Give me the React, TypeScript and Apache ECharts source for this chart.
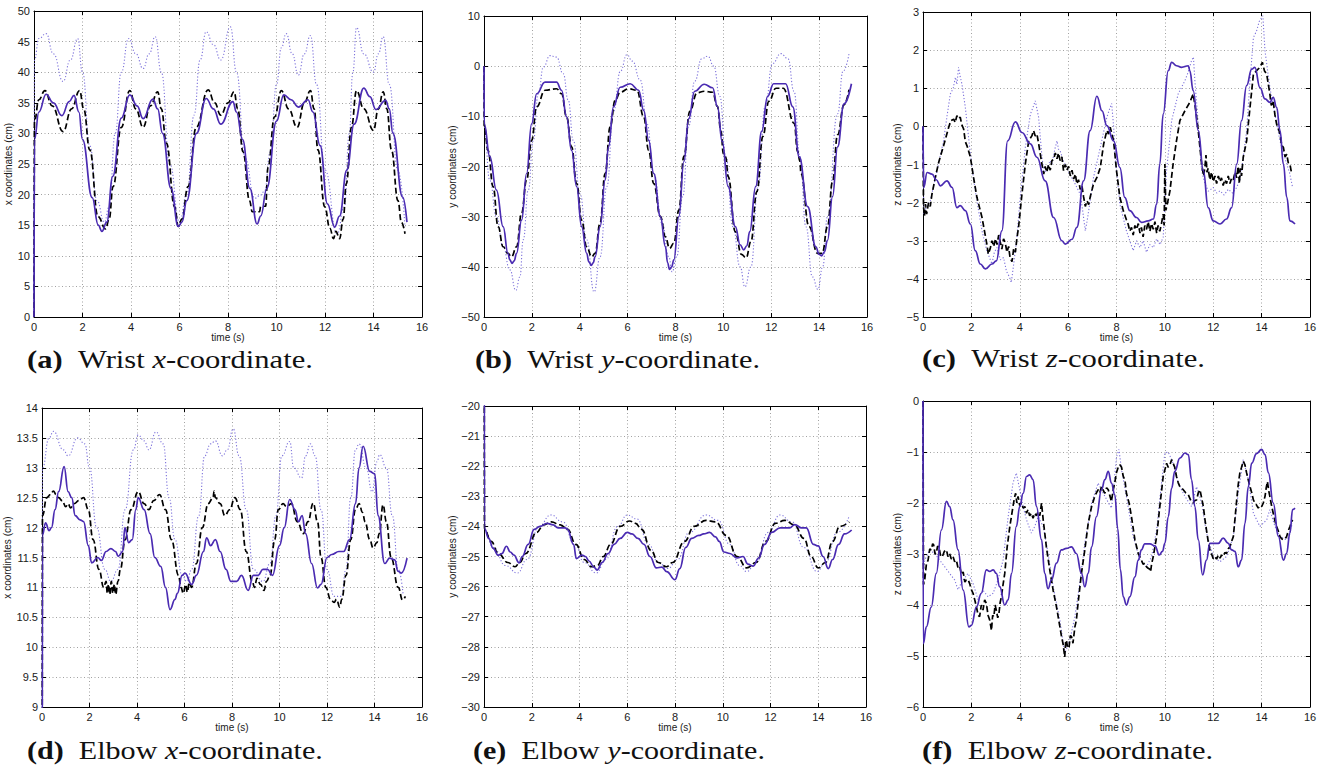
import { useEffect, useRef } from "react";
import * as echarts from "echarts";

type Pts = [number, number][];

// ---------- (a) Wrist x ----------
const A_SOLID: Pts = [[0,0],[0.02,29],[0.2,33.5],[0.5,36.4],[0.8,35],[1.15,32.9],[1.45,35.2],[1.65,36.2],[1.85,33.5],[2.0,29],[2.4,19.5],[2.65,15],[2.8,14],[3.0,15.5],[3.25,23],[3.6,32.5],[3.95,36.3],[4.25,34.5],[4.5,32.4],[4.9,35.6],[5.1,34],[5.3,30],[5.65,21],[5.95,14.8],[6.1,15.5],[6.3,19],[6.7,30],[7.1,35.7],[7.4,34],[7.7,31.5],[8.2,35.2],[8.35,33.5],[8.6,29],[8.9,21],[9.2,15.2],[9.35,16.5],[9.6,21],[10.0,32],[10.3,36.3],[10.6,35.5],[10.9,34.3],[11.3,35.5],[11.5,33.5],[11.8,28],[12.1,18.5],[12.4,14.7],[12.6,16.5],[12.9,24],[13.2,31.5],[13.6,37.4],[13.85,36],[14.1,33.9],[14.5,35.4],[14.65,34],[14.8,30],[15.2,19.6],[15.38,15.5]];
const A_DASH: Pts = [[0,0],[0.02,32],[0.2,35.5],[0.45,37],[0.75,34.5],[1.2,30.3],[1.55,34],[1.88,37],[2.05,34],[2.3,27.3],[2.64,16.4],[2.95,14.4],[3.1,16],[3.26,21.3],[3.6,31],[3.95,37],[4.2,34],[4.5,31],[4.8,34.5],[5.1,36.8],[5.25,34],[5.46,28.4],[5.8,18],[5.95,14.8],[6.1,16],[6.35,21.3],[6.69,31],[7.18,37.1],[7.45,35],[7.7,33],[8.0,35],[8.25,36.8],[8.4,34],[8.62,27],[8.89,19],[9.0,17.2],[9.3,17.2],[9.35,18.1],[9.55,18.1],[9.65,24.5],[9.92,32.7],[10.2,37],[10.5,34],[10.85,31],[11.15,35],[11.4,37],[11.55,34],[11.71,27.3],[11.99,18],[12.2,14.5],[12.35,12.8],[12.45,14],[12.6,12.8],[12.75,16],[12.88,21.8],[13.09,31],[13.3,37],[13.6,34],[14.0,30.5],[14.2,34],[14.4,36.8],[14.55,34],[14.74,27.3],[15.01,19],[15.15,15.5],[15.3,13.6]];
const A_DOT: Pts = [[0,0],[0.02,42],[0.2,45.5],[0.5,46.3],[0.8,43],[1.2,38.5],[1.5,42],[1.8,45.5],[2.0,40],[2.3,28],[2.6,19],[2.9,15.5],[3.1,18],[3.35,30],[3.6,40],[3.9,45.5],[4.2,43],[4.5,40.6],[4.75,43],[5.0,45.8],[5.25,40],[5.6,25],[6.0,15.5],[6.3,20],[6.6,33],[6.85,42],[7.1,46.6],[7.4,44.5],[7.7,42],[8.1,47.4],[8.35,40],[8.7,26],[9.1,19.4],[9.3,19.8],[9.5,20.5],[9.75,27],[10.0,38],[10.2,44],[10.4,46.3],[10.65,43],[10.9,39.5],[11.15,43],[11.4,46],[11.65,38],[12.0,24],[12.5,13.6],[12.8,18],[13.0,30],[13.15,40],[13.3,47.3],[13.6,43],[14.0,40],[14.2,43],[14.4,45.8],[14.65,38],[15.0,24],[15.3,14.7]];

// ---------- (b) Wrist y ----------
const B_SOLID: Pts = [[0,0],[0.01,-11.5],[0.24,-18],[0.52,-24.7],[0.8,-32],[1.0,-37.3],[1.08,-38.6],[1.17,-39.3],[1.26,-38.8],[1.36,-37.3],[1.57,-30.7],[1.78,-21.4],[1.99,-11.5],[2.2,-5.5],[2.55,-3.2],[3.03,-3.2],[3.24,-4.8],[3.45,-10.1],[3.66,-16.8],[3.87,-24],[4.08,-32],[4.29,-37.3],[4.38,-39],[4.48,-39.7],[4.56,-39.2],[4.64,-38],[4.85,-32],[5.06,-22.7],[5.2,-16.1],[5.41,-8.1],[5.69,-4.2],[6.11,-3.5],[6.46,-4.8],[6.67,-8.8],[6.88,-14.8],[7.09,-21.4],[7.37,-30],[7.58,-36],[7.67,-39.2],[7.75,-40.5],[7.84,-40],[7.93,-38.6],[8.14,-30],[8.35,-19],[8.55,-10.5],[8.8,-5],[9.2,-3.6],[9.55,-4.3],[9.75,-8],[9.95,-15],[10.2,-24],[10.5,-32],[10.7,-35.6],[10.85,-36.6],[10.98,-35.8],[11.1,-33],[11.35,-24],[11.6,-13],[11.85,-6],[12.1,-3.5],[12.6,-3.5],[12.9,-8.1],[13.17,-18.1],[13.52,-28],[13.86,-36],[14.0,-37.5],[14.1,-37.8],[14.22,-37],[14.35,-34.7],[14.56,-26],[14.77,-16.1],[15.04,-7.5],[15.35,-3.5]];
const B_DASH: Pts = [[0,0],[0.01,-12],[0.17,-16.8],[0.38,-24],[0.59,-32],[0.8,-36],[1.0,-37.3],[1.15,-38],[1.36,-36],[1.57,-29.3],[1.78,-22.7],[1.99,-14.8],[2.2,-8.1],[2.55,-4.8],[3.03,-4.5],[3.24,-5.5],[3.45,-10.1],[3.66,-16.1],[3.87,-23.4],[4.08,-30.7],[4.29,-36],[4.5,-38],[4.64,-37.3],[4.85,-31.3],[5.06,-21.4],[5.27,-12.1],[5.48,-6.8],[5.69,-5.2],[6.04,-4.5],[6.39,-4.8],[6.67,-10.1],[6.88,-16.8],[7.09,-23.4],[7.37,-30],[7.58,-34],[7.75,-36.3],[7.93,-35.3],[8.14,-28.7],[8.35,-18],[8.6,-9],[8.9,-5.3],[9.2,-5],[9.55,-5.2],[9.75,-8],[9.9,-13],[10.0,-17.5],[10.1,-18.2],[10.2,-22],[10.5,-33],[10.75,-37.5],[10.95,-38.2],[11.15,-35],[11.4,-25],[11.65,-14],[11.9,-7],[12.2,-4.4],[12.5,-4.4],[12.96,-11.4],[13.1,-17],[13.2,-19],[13.24,-21.4],[13.58,-32],[13.93,-37.3],[14.13,-37.3],[14.35,-32],[14.56,-23],[14.77,-13.7],[15.04,-7.7],[15.25,-4.7]];
const B_DOT: Pts = [[0,0],[0.01,-12],[0.24,-22.7],[0.52,-30],[0.8,-36],[1.08,-40.6],[1.33,-44.7],[1.5,-42],[1.64,-34.6],[1.85,-24.7],[2.06,-14.8],[2.27,-5.5],[2.48,-0.2],[2.76,2.1],[3.03,1.8],[3.31,-1.5],[3.52,-6.8],[3.73,-14.8],[4.01,-25.4],[4.29,-34.6],[4.6,-45],[4.85,-38],[5.13,-24],[5.41,-9],[5.7,-1],[5.97,2.3],[6.2,1],[6.53,-2.8],[6.81,-11.5],[7.09,-21.4],[7.44,-31.3],[7.72,-38],[7.86,-41],[8.05,-38],[8.3,-26],[8.55,-12],[8.8,-3],[9.1,1.5],[9.35,2],[9.6,0],[9.85,-6],[10.1,-18],[10.4,-32],[10.7,-40],[10.9,-44],[11.15,-40],[11.45,-24],[11.75,-8],[12.05,0.5],[12.4,2.5],[12.7,1.5],[12.95,-5],[13.2,-18],[13.45,-32],[13.72,-42],[13.95,-44.5],[14.15,-40],[14.35,-30],[14.77,-9.5],[15.0,-1],[15.25,2.5]];

// ---------- (c) Wrist z ----------
const C_SOLID: Pts = [[0,0],[0.03,-1.6],[0.17,-1.21],[0.37,-1.25],[0.55,-1.4],[0.72,-1.56],[0.99,-1.43],[1.2,-1.6],[1.4,-2.13],[1.54,-2.08],[1.75,-2.21],[1.96,-2.56],[2.16,-3.26],[2.37,-3.61],[2.58,-3.74],[2.85,-3.61],[3.03,-3.53],[3.26,-2.74],[3.5,-0.38],[3.82,0.12],[4.09,-0.16],[4.44,-0.46],[4.71,-0.81],[5.05,-1.43],[5.4,-2.39],[5.74,-3.0],[5.88,-3.09],[6.16,-2.96],[6.36,-2.65],[6.64,-1.43],[6.91,-0.11],[7.19,0.79],[7.4,0.41],[7.6,0.02],[7.88,-0.38],[8.14,-1.08],[8.34,-1.86],[8.55,-2.21],[8.83,-2.39],[9.03,-2.52],[9.31,-2.48],[9.52,-2.43],[9.66,-2.04],[9.79,-0.99],[9.93,0.32],[10.14,1.46],[10.28,1.68],[10.48,1.59],[10.69,1.55],[10.97,1.59],[11.03,1.46],[11.17,0.94],[11.38,-0.11],[11.59,-1.16],[11.79,-2.13],[12.0,-2.48],[12.28,-2.56],[12.55,-2.43],[12.76,-2.13],[12.97,-0.99],[13.17,0.15],[13.38,1.07],[13.59,1.5],[13.72,1.55],[13.93,1.02],[14.14,0.72],[14.34,0.63],[14.48,0.76],[14.62,0.5],[14.76,-0.11],[14.9,-0.99],[15.04,-1.86],[15.17,-2.48],[15.38,-2.56]];
const C_DASH: Pts = [[0,0],[0.02,-2.1],[0.06,-2.35],[0.1,-2.04],[0.15,-2.3],[0.23,-2.0],[0.3,-2.1],[0.37,-1.78],[0.51,-1.34],[0.65,-0.94],[0.85,-0.51],[1.06,-0.03],[1.15,0.15],[1.27,0.19],[1.33,0.1],[1.4,0.28],[1.47,0.2],[1.54,0.24],[1.6,0.05],[1.68,-0.07],[1.75,-0.4],[1.82,-0.51],[1.96,-0.81],[2.09,-1.34],[2.23,-1.86],[2.44,-2.39],[2.64,-3.09],[2.7,-3.35],[2.78,-3.2],[2.85,-3.0],[2.92,-3.15],[3.0,-2.95],[3.06,-3.1],[3.13,-2.85],[3.2,-3.05],[3.26,-3.22],[3.33,-2.95],[3.4,-3.05],[3.47,-3.3],[3.54,-3.15],[3.6,-3.45],[3.68,-3.55],[3.75,-3.2],[3.82,-3.3],[3.88,-2.95],[3.95,-2.65],[4.09,-1.78],[4.23,-0.99],[4.37,-0.38],[4.5,-0.25],[4.57,-0.11],[4.64,-0.25],[4.71,-0.2],[4.78,-0.45],[4.85,-0.73],[4.92,-1.0],[4.99,-1.25],[5.05,-1.05],[5.12,-1.2],[5.19,-1.0],[5.26,-1.15],[5.33,-0.9],[5.4,-0.86],[5.47,-0.7],[5.54,-0.85],[5.6,-0.7],[5.67,-0.9],[5.74,-0.8],[5.81,-1.16],[5.88,-1.0],[5.95,-1.15],[6.02,-1.05],[6.09,-1.3],[6.16,-1.15],[6.23,-1.38],[6.3,-1.25],[6.36,-1.51],[6.43,-1.4],[6.5,-1.65],[6.57,-1.55],[6.64,-1.85],[6.71,-2.1],[6.78,-1.95],[6.85,-2.05],[6.91,-1.86],[7.05,-1.51],[7.19,-1.34],[7.33,-1.08],[7.47,-0.46],[7.6,-0.11],[7.67,-0.2],[7.74,-0.02],[7.81,-0.2],[7.88,-0.38],[8.0,-1.16],[8.14,-1.86],[8.28,-2.21],[8.41,-2.45],[8.48,-2.56],[8.55,-2.75],[8.62,-2.65],[8.69,-2.85],[8.76,-2.6],[8.83,-2.7],[8.9,-2.55],[8.97,-2.8],[9.03,-2.65],[9.1,-2.9],[9.17,-2.6],[9.24,-2.7],[9.31,-2.5],[9.38,-2.75],[9.45,-2.55],[9.52,-2.7],[9.59,-2.5],[9.66,-2.8],[9.72,-2.6],[9.79,-2.75],[9.86,-2.55],[9.93,-2.3],[9.97,-2.6],[10.0,-0.99],[10.04,-2.2],[10.1,-2.04],[10.21,-1.69],[10.34,-0.99],[10.48,-0.38],[10.62,0.15],[10.83,0.41],[11.03,0.63],[11.17,0.85],[11.28,0.41],[11.38,-0.11],[11.52,-0.99],[11.6,-1.3],[11.65,-1.1],[11.7,-0.75],[11.74,-1.2],[11.79,-1.1],[11.86,-1.4],[11.93,-1.2],[12.0,-1.45],[12.07,-1.3],[12.14,-1.5],[12.21,-1.3],[12.28,-1.45],[12.34,-1.35],[12.41,-1.55],[12.48,-1.4],[12.55,-1.5],[12.62,-1.3],[12.69,-1.5],[12.76,-1.35],[12.83,-1.4],[12.9,-1.2],[12.97,-1.35],[13.03,-1.05],[13.08,-1.5],[13.12,-1.1],[13.17,-1.3],[13.24,-0.81],[13.38,-0.38],[13.52,0.5],[13.66,1.37],[13.79,1.46],[13.93,1.55],[14.03,1.68],[14.12,1.45],[14.21,1.37],[14.34,0.85],[14.4,0.55],[14.48,0.67],[14.55,0.3],[14.62,0.06],[14.69,-0.05],[14.76,-0.2],[14.83,-0.5],[14.9,-0.55],[14.97,-0.8],[15.04,-0.73],[15.1,-0.95],[15.17,-0.99],[15.23,-1.2],[15.28,-1.25]];
const C_DOT: Pts = [[0,0],[0.03,-2.3],[0.15,-2.1],[0.3,-1.95],[0.58,-1.16],[0.85,-0.38],[1.0,0.3],[1.13,0.85],[1.25,1.0],[1.34,1.29],[1.4,1.1],[1.47,1.55],[1.54,1.3],[1.61,1.11],[1.75,0.5],[1.96,-0.73],[2.16,-1.69],[2.44,-2.74],[2.64,-3.26],[2.85,-3.61],[2.95,-3.3],[3.06,-3.18],[3.2,-3.5],[3.33,-3.44],[3.45,-3.8],[3.58,-3.96],[3.65,-4.1],[3.75,-3.61],[3.88,-2.91],[4.02,-1.86],[4.23,-0.55],[4.44,0.32],[4.55,0.5],[4.64,0.67],[4.78,0.24],[4.92,-0.81],[5.0,-1.2],[5.12,-1.16],[5.25,-0.9],[5.33,-0.99],[5.45,-0.6],[5.54,-0.38],[5.6,-0.6],[5.67,-0.64],[5.8,-0.9],[5.95,-1.08],[6.1,-1.3],[6.23,-1.43],[6.5,-1.78],[6.6,-2.2],[6.71,-2.74],[6.78,-2.5],[6.85,-2.21],[7.05,-1.34],[7.33,-0.55],[7.6,0.24],[7.74,0.5],[7.8,0.6],[7.88,0.0],[7.95,-0.81],[8.14,-2.04],[8.41,-2.74],[8.55,-3.0],[8.69,-3.26],[8.83,-3.0],[8.97,-3.18],[9.1,-3.0],[9.24,-3.3],[9.38,-3.1],[9.52,-3.18],[9.66,-2.95],[9.8,-3.1],[9.93,-2.91],[10.07,-1.16],[10.28,0.15],[10.55,0.85],[10.83,1.2],[10.95,1.4],[11.1,1.72],[11.18,1.82],[11.24,1.2],[11.38,0.06],[11.52,-1.16],[11.66,-1.51],[11.8,-1.7],[12.0,-1.6],[12.14,-1.75],[12.28,-1.69],[12.45,-1.8],[12.62,-1.65],[12.8,-1.75],[12.97,-1.6],[13.1,-1.4],[13.17,-1.16],[13.38,-0.11],[13.52,1.2],[13.66,2.33],[13.79,2.5],[13.9,2.75],[14.05,2.9],[14.14,1.98],[14.34,1.02],[14.55,0.32],[14.76,-0.38],[15.04,-0.99],[15.15,-1.2],[15.28,-1.6]];

// ---------- (d) Elbow x ----------
const D_SOLID: Pts = [[0,0],[0.02,11.88],[0.15,12.08],[0.3,11.95],[0.4,12.0],[0.55,12.3],[0.7,12.6],[0.93,13.02],[1.1,12.6],[1.25,12.5],[1.4,12.2],[1.6,12.13],[1.75,12.1],[1.95,11.7],[2.09,11.41],[2.35,11.5],[2.5,11.45],[2.7,11.6],[2.9,11.65],[3.1,11.6],[3.21,11.52],[3.4,11.6],[3.49,12.0],[3.65,11.75],[3.8,11.8],[3.95,12.3],[4.05,12.5],[4.3,12.3],[4.55,11.9],[4.75,11.5],[5.0,11.35],[5.2,11.0],[5.39,10.63],[5.6,10.8],[5.7,10.9],[5.9,11.2],[6.02,11.24],[6.3,11.05],[6.5,11.2],[6.8,11.6],[6.93,11.83],[7.1,11.7],[7.3,11.8],[7.5,11.6],[7.75,11.3],[7.95,11.1],[8.2,11.1],[8.4,11.2],[8.68,10.95],[8.9,11.2],[9.1,11.2],[9.3,11.3],[9.5,11.3],[9.7,11.2],[10.0,11.7],[10.2,12.0],[10.43,12.47],[10.65,12.3],[10.8,12.1],[10.95,12.2],[11.1,11.9],[11.35,11.4],[11.6,10.99],[11.75,11.05],[12.0,11.5],[12.2,11.55],[12.5,11.6],[12.7,11.6],[12.95,11.8],[13.2,12.4],[13.35,13.0],[13.52,13.36],[13.8,12.94],[14.01,12.9],[14.15,12.2],[14.43,11.4],[14.64,11.49],[14.85,11.46],[14.99,11.27],[15.13,11.24],[15.37,11.49]];
const D_DASH: Pts = [[0,0],[0.02,12.2],[0.2,12.5],[0.35,12.55],[0.48,12.61],[0.6,12.55],[0.7,12.5],[0.85,12.45],[1.0,12.35],[1.1,12.4],[1.2,12.33],[1.35,12.4],[1.55,12.45],[1.75,12.5],[1.95,12.3],[2.15,11.8],[2.4,11.3],[2.6,11.0],[2.7,11.1],[2.75,10.9],[2.8,11.05],[2.85,10.88],[2.92,11.1],[2.98,10.9],[3.05,11.05],[3.1,10.88],[3.2,11.1],[3.3,11.3],[3.5,11.8],[3.75,12.3],[4.05,12.6],[4.3,12.4],[4.5,12.3],[4.7,12.45],[4.95,12.55],[5.2,12.3],[5.45,11.8],[5.75,11.2],[5.85,11.0],[5.95,10.9],[6.05,11.05],[6.12,10.92],[6.2,11.08],[6.3,11.0],[6.5,11.4],[6.75,12.0],[7.0,12.4],[7.2,12.5],[7.25,12.61],[7.3,12.5],[7.5,12.4],[7.7,12.2],[7.9,12.3],[8.12,12.5],[8.35,12.3],[8.6,11.6],[8.85,11.1],[8.95,11.0],[9.05,11.15],[9.2,11.05],[9.35,10.95],[9.45,11.1],[9.6,11.2],[9.8,11.8],[9.95,12.3],[10.15,12.4],[10.3,12.35],[10.5,12.4],[10.75,12.1],[11.0,11.9],[11.2,12.1],[11.42,12.41],[11.6,12.1],[11.75,11.5],[11.95,11.0],[12.15,10.8],[12.3,10.75],[12.4,10.8],[12.54,10.67],[12.62,10.8],[12.8,11.2],[13.0,11.8],[13.2,12.3],[13.35,12.4],[13.5,12.25],[13.6,12.1],[13.8,11.8],[13.94,11.66],[14.1,11.75],[14.2,11.9],[14.36,12.38],[14.5,12.1],[14.7,11.5],[15.0,11.0],[15.18,10.79],[15.3,10.85]];
const D_DOT: Pts = [[0,0],[0.02,13.0],[0.3,13.5],[0.48,13.61],[0.9,13.3],[1.1,13.2],[1.5,13.5],[1.8,13.4],[2.0,13.0],[2.3,12.0],[2.65,11.3],[2.9,11.1],[3.2,11.3],[3.5,12.3],[3.85,13.3],[4.05,13.55],[4.3,13.45],[4.5,13.3],[4.8,13.6],[5.1,13.4],[5.35,12.5],[5.6,11.8],[5.9,11.2],[6.1,11.1],[6.3,11.3],[6.6,12.2],[6.85,13.2],[7.1,13.4],[7.3,13.45],[7.6,13.2],[7.8,13.3],[8.05,13.65],[8.3,13.2],[8.6,12.3],[8.9,11.3],[9.3,11.1],[9.6,11.4],[9.85,12.2],[10.1,13.2],[10.43,13.44],[10.6,13.0],[10.93,12.83],[11.1,13.2],[11.3,13.4],[11.5,13.2],[11.75,12.3],[12.0,11.3],[12.3,10.85],[12.6,10.85],[12.8,11.3],[13.0,12.5],[13.2,13.3],[13.35,13.4],[13.65,13.0],[13.9,12.6],[14.1,13.1],[14.22,13.22],[14.5,13.0],[14.75,12.2],[15.0,11.3],[15.2,10.9]];

// ---------- (e) Elbow y ----------
const E_SOLID: Pts = [[0,0],[0.02,-24.07],[0.2,-24.4],[0.38,-24.73],[0.6,-24.96],[0.75,-24.9],[0.94,-24.66],[1.1,-24.85],[1.25,-24.95],[1.47,-25.21],[1.6,-25.0],[1.85,-24.6],[2.1,-24.1],[2.35,-24.0],[2.64,-23.9],[2.9,-23.95],[3.1,-24.05],[3.4,-24.05],[3.5,-24.1],[3.75,-24.6],[3.87,-25.07],[4.1,-24.95],[4.25,-25.0],[4.4,-25.15],[4.6,-25.35],[4.74,-25.45],[4.95,-25.2],[5.2,-24.9],[5.45,-24.6],[5.7,-24.4],[6.0,-24.2],[6.2,-24.25],[6.45,-24.4],[6.7,-24.6],[6.95,-25.0],[7.22,-25.38],[7.45,-25.35],[7.65,-25.5],[8.0,-25.77],[8.2,-25.4],[8.45,-24.7],[8.7,-24.4],[9.0,-24.3],[9.2,-24.25],[9.45,-24.2],[9.7,-24.35],[9.85,-24.5],[10.05,-24.85],[10.3,-24.9],[10.6,-25.05],[10.85,-25.0],[11.05,-25.25],[11.28,-25.32],[11.5,-25.05],[11.75,-24.6],[12.05,-24.2],[12.4,-24.05],[12.8,-24.05],[13.02,-23.94],[13.3,-24.05],[13.5,-24.05],[13.8,-24.6],[14.0,-24.65],[14.2,-25.0],[14.42,-25.4],[14.6,-25.1],[14.85,-24.6],[15.1,-24.25],[15.4,-24.12]];
const E_DASH: Pts = [[0,0],[0.02,-24.1],[0.3,-24.5],[0.6,-24.9],[1.0,-25.2],[1.3,-25.34],[1.5,-25.2],[1.75,-24.9],[2.2,-24.2],[2.5,-23.95],[2.82,-23.85],[3.2,-23.95],[3.5,-24.1],[3.85,-24.6],[4.2,-25.1],[4.5,-25.34],[4.75,-25.3],[5.0,-25.0],[5.3,-24.6],[5.7,-24.0],[6.1,-23.82],[6.35,-23.9],[6.6,-24.1],[7.0,-24.8],[7.3,-25.2],[7.64,-25.34],[7.9,-25.2],[8.4,-24.5],[8.8,-24.0],[9.3,-23.8],[9.7,-23.85],[10.15,-24.3],[10.6,-25.0],[11.0,-25.38],[11.4,-25.2],[11.8,-24.5],[12.2,-23.9],[12.6,-23.8],[13.0,-23.95],[13.4,-24.4],[13.7,-25.0],[14.0,-25.38],[14.3,-25.2],[14.6,-24.5],[14.9,-24.0],[15.3,-23.85]];
const E_DOT: Pts = [[0,0],[0.02,-24.1],[0.4,-24.7],[0.9,-25.3],[1.4,-25.55],[1.8,-25.1],[2.3,-24.0],[2.8,-23.62],[3.3,-23.85],[3.8,-24.6],[4.2,-25.2],[4.7,-25.55],[5.1,-25.1],[5.6,-24.0],[6.0,-23.62],[6.4,-23.75],[6.9,-24.6],[7.3,-25.2],[7.7,-25.4],[8.1,-25.1],[8.6,-24.2],[9.3,-23.62],[9.8,-23.8],[10.3,-24.6],[10.7,-25.3],[11.0,-25.5],[11.4,-25.2],[11.9,-24.2],[12.4,-23.62],[12.9,-23.85],[13.4,-24.7],[13.95,-25.5],[14.3,-25.2],[14.8,-24.2],[15.3,-23.65]];

// ---------- (f) Elbow z ----------
const F_SOLID: Pts = [[0,0],[0.01,-4.76],[0.14,-4.43],[0.34,-4.04],[0.55,-3.38],[0.76,-2.53],[0.97,-1.97],[1.1,-2.07],[1.24,-2.33],[1.45,-2.92],[1.66,-3.71],[1.9,-4.43],[2.0,-4.4],[2.21,-4.04],[2.41,-3.77],[2.62,-3.31],[2.76,-3.34],[2.9,-3.31],[3.03,-3.38],[3.17,-3.64],[3.38,-4.0],[3.52,-3.9],[3.66,-3.38],[3.86,-2.46],[4.0,-2.07],[4.14,-1.81],[4.28,-1.48],[4.41,-1.45],[4.55,-1.54],[4.69,-2.07],[4.9,-2.72],[5.03,-3.38],[5.17,-3.68],[5.31,-3.51],[5.52,-3.18],[5.72,-2.92],[5.93,-2.89],[6.14,-2.86],[6.34,-2.99],[6.55,-3.38],[6.69,-3.64],[6.83,-3.38],[6.97,-2.86],[7.17,-2.27],[7.38,-1.74],[7.52,-1.54],[7.66,-1.38],[7.79,-1.61],[7.93,-1.84],[8.05,-2.5],[8.16,-3.3],[8.28,-3.84],[8.41,-4.0],[8.55,-3.84],[8.76,-3.45],[8.9,-3.12],[9.03,-2.92],[9.17,-2.8],[9.38,-2.8],[9.59,-2.84],[9.77,-3.02],[9.9,-2.95],[10.0,-2.79],[10.14,-2.27],[10.28,-1.71],[10.41,-1.38],[10.62,-1.12],[10.83,-1.02],[10.97,-1.05],[11.1,-1.54],[11.24,-2.07],[11.38,-2.72],[11.56,-3.41],[11.72,-3.12],[11.86,-2.79],[12.0,-2.79],[12.21,-2.79],[12.41,-2.69],[12.62,-2.79],[12.76,-2.92],[12.9,-2.95],[13.03,-3.25],[13.17,-3.12],[13.31,-2.4],[13.45,-1.68],[13.59,-1.22],[13.79,-1.03],[14.0,-0.95],[14.14,-1.05],[14.28,-1.41],[14.48,-2.0],[14.69,-2.65],[14.9,-3.12],[15.03,-2.99],[15.17,-2.59],[15.28,-2.13],[15.38,-2.1]];
const F_DASH: Pts = [[0,0],[0.02,-3.6],[0.07,-3.51],[0.14,-3.2],[0.21,-3.12],[0.28,-2.9],[0.34,-2.92],[0.4,-2.8],[0.44,-2.82],[0.5,-3.0],[0.55,-2.99],[0.6,-2.85],[0.66,-2.86],[0.73,-3.05],[0.8,-3.05],[0.88,-2.95],[0.97,-2.92],[1.03,-3.05],[1.1,-2.99],[1.17,-3.1],[1.24,-3.05],[1.31,-3.15],[1.38,-3.12],[1.45,-3.28],[1.52,-3.25],[1.59,-3.4],[1.66,-3.35],[1.73,-3.55],[1.79,-3.51],[1.86,-3.5],[1.93,-3.58],[2.0,-3.7],[2.07,-3.77],[2.14,-3.9],[2.21,-4.04],[2.28,-4.2],[2.34,-4.23],[2.41,-4.0],[2.48,-4.1],[2.55,-3.9],[2.62,-3.97],[2.69,-4.2],[2.76,-4.3],[2.83,-4.5],[2.88,-4.2],[2.93,-4.23],[2.98,-4.0],[3.03,-4.1],[3.09,-4.25],[3.14,-4.17],[3.19,-3.95],[3.24,-3.84],[3.31,-3.6],[3.38,-3.38],[3.48,-2.86],[3.59,-2.46],[3.72,-2.07],[3.78,-1.9],[3.83,-1.81],[3.88,-2.0],[3.93,-1.87],[4.0,-2.05],[4.07,-2.0],[4.14,-2.1],[4.21,-2.07],[4.28,-2.2],[4.34,-2.13],[4.41,-2.25],[4.48,-2.2],[4.55,-2.3],[4.62,-2.2],[4.69,-2.25],[4.76,-2.17],[4.83,-2.25],[4.9,-2.0],[4.97,-2.33],[5.1,-2.86],[5.24,-3.31],[5.38,-3.71],[5.52,-4.04],[5.66,-4.43],[5.72,-4.6],[5.79,-4.76],[5.86,-5.02],[5.9,-4.7],[5.93,-4.69],[5.98,-4.85],[6.04,-4.82],[6.09,-4.6],[6.14,-4.62],[6.2,-4.75],[6.28,-4.43],[6.34,-4.3],[6.41,-3.97],[6.55,-3.38],[6.69,-2.92],[6.83,-2.4],[6.97,-2.07],[7.1,-1.87],[7.17,-1.8],[7.24,-1.74],[7.31,-1.8],[7.38,-1.68],[7.45,-1.75],[7.52,-1.81],[7.59,-1.7],[7.66,-1.74],[7.72,-1.85],[7.79,-1.97],[7.86,-1.75],[7.93,-1.6],[8.0,-1.4],[8.07,-1.3],[8.14,-1.25],[8.21,-1.3],[8.28,-1.48],[8.35,-1.55],[8.41,-1.81],[8.52,-2.0],[8.62,-2.27],[8.76,-2.72],[8.9,-2.99],[9.03,-3.12],[9.1,-3.2],[9.17,-3.18],[9.24,-3.25],[9.31,-3.28],[9.38,-3.3],[9.41,-3.35],[9.45,-3.2],[9.52,-3.05],[9.66,-2.66],[9.79,-2.07],[9.93,-1.48],[10.0,-1.35],[10.07,-1.22],[10.14,-1.3],[10.21,-1.25],[10.28,-1.15],[10.34,-1.22],[10.41,-1.3],[10.48,-1.48],[10.55,-1.6],[10.62,-1.68],[10.69,-1.7],[10.76,-1.74],[10.86,-1.8],[10.97,-1.84],[11.07,-1.95],[11.17,-2.0],[11.24,-1.95],[11.31,-1.94],[11.38,-1.8],[11.45,-1.74],[11.52,-1.9],[11.59,-2.07],[11.65,-2.3],[11.72,-2.53],[11.79,-2.75],[11.86,-2.92],[11.93,-3.0],[12.0,-3.09],[12.07,-3.05],[12.14,-3.1],[12.21,-3.02],[12.28,-3.08],[12.34,-3.02],[12.41,-3.05],[12.48,-2.97],[12.55,-2.99],[12.62,-2.9],[12.69,-2.86],[12.76,-2.75],[12.83,-2.66],[12.9,-2.3],[12.97,-1.94],[13.03,-1.65],[13.1,-1.41],[13.17,-1.3],[13.24,-1.18],[13.31,-1.25],[13.38,-1.41],[13.45,-1.55],[13.52,-1.68],[13.59,-1.8],[13.66,-1.94],[13.72,-2.0],[13.79,-2.04],[13.86,-2.1],[13.93,-2.05],[14.0,-2.07],[14.07,-2.0],[14.14,-1.87],[14.19,-1.7],[14.24,-1.58],[14.29,-1.75],[14.34,-1.87],[14.41,-2.05],[14.48,-2.2],[14.55,-2.35],[14.62,-2.46],[14.69,-2.55],[14.76,-2.66],[14.83,-2.7],[14.9,-2.72],[14.97,-2.7],[15.03,-2.66],[15.1,-2.55],[15.17,-2.46],[15.23,-2.38],[15.28,-2.33]];
const F_DOT: Pts = [[0,0],[0.02,-3.3],[0.07,-3.12],[0.28,-2.92],[0.48,-2.99],[0.69,-3.12],[0.9,-3.25],[1.1,-3.38],[1.31,-3.51],[1.45,-3.7],[1.55,-3.6],[1.66,-3.51],[1.86,-3.38],[2.07,-3.58],[2.28,-3.9],[2.48,-3.71],[2.69,-3.84],[2.9,-3.77],[3.1,-3.51],[3.31,-3.12],[3.52,-2.27],[3.72,-1.61],[3.86,-1.41],[4.0,-1.74],[4.14,-2.07],[4.28,-2.33],[4.48,-2.59],[4.62,-2.46],[4.76,-2.27],[4.97,-2.46],[5.17,-2.99],[5.38,-3.64],[5.66,-4.3],[5.86,-4.95],[6.07,-4.69],[6.28,-4.23],[6.48,-3.58],[6.69,-2.79],[6.97,-2.0],[7.24,-1.61],[7.52,-1.87],[7.79,-2.1],[7.9,-1.6],[8.0,-1.1],[8.1,-0.95],[8.21,-1.35],[8.41,-1.87],[8.69,-2.66],[8.97,-3.12],[9.24,-3.25],[9.45,-3.05],[9.66,-2.53],[9.86,-1.61],[10.0,-1.02],[10.14,-1.0],[10.34,-1.22],[10.55,-1.61],[10.83,-1.87],[11.1,-2.07],[11.31,-1.68],[11.52,-2.0],[11.72,-2.59],[12.0,-3.05],[12.28,-3.15],[12.55,-3.05],[12.83,-2.66],[13.03,-1.81],[13.24,-1.15],[13.45,-1.54],[13.66,-2.2],[13.93,-2.46],[14.21,-2.33],[14.34,-2.13],[14.55,-2.46],[14.76,-2.66],[15.03,-2.72],[15.28,-2.4]];

// ---------- axes & captions ----------
const X_NAME = "time (s)";
const X_MIN = 0;
const X_MAX = 16;
const X_INTERVAL = 2;
const Y_MINS = [0, -50, -5, 9, -30, -6];
const Y_MAXS = [50, 10, 3, 14, -20, 0];
const Y_INTERVALS = [5, 10, 1, 0.5, 1, 1];
const Y_NAMES = ["x coordinates (cm)", "y coordinates (cm)", "z coordinates (cm)", "x coordinates (cm)", "y coordinates (cm)", "z coordinates (cm)"];
const CAPTION_LETTERS = ["a", "b", "c", "d", "e", "f"];
const CAPTION_JOINTS = ["Wrist", "Wrist", "Wrist", "Elbow", "Elbow", "Elbow"];
const CAPTION_AXES = ["x", "y", "z", "x", "y", "z"];

const SOLID = [A_SOLID, B_SOLID, C_SOLID, D_SOLID, E_SOLID, F_SOLID];
const DASHED = [A_DASH, B_DASH, C_DASH, D_DASH, E_DASH, F_DASH];
const DOTTED = [A_DOT, B_DOT, C_DOT, D_DOT, E_DOT, F_DOT];
const NOISY = [false, false, true, false, false, true];

// ---------- layout (pixels) ----------
const GRIDS = [
  { left: 34, top: 11, width: 388, height: 306 },
  { left: 484, top: 16, width: 383, height: 301 },
  { left: 923, top: 12, width: 387, height: 305 },
  { left: 42, top: 408, width: 380, height: 299 },
  { left: 484, top: 406, width: 382, height: 301 },
  { left: 923, top: 401, width: 387, height: 306 },
];
const Y_NAME_GAPS = [15, 23, 16, 22, 21, 15];
const X_NAME_GAPS = [15, 15, 15, 14, 14, 14];
const CAPTIONS_POS = [
  { x: 27, y: 359, w: 286 },
  { x: 475, y: 359, w: 285 },
  { x: 922, y: 359, w: 283 },
  { x: 27, y: 750, w: 296 },
  { x: 473, y: 750, w: 292 },
  { x: 922, y: 750, w: 291 },
];

const SANS = "'Liberation Sans', Arial, Helvetica, sans-serif";
const SERIF = "'Liberation Serif', 'Times New Roman', serif";
const CAP_SIZE = 25;
const SOLID_COLOR = "#4a2bb2";
const DOT_COLOR = "#7d72db";
const GRID_COLOR = "#8a8a8a";

const minusFmt = (v: number) => String(v).replace("-", "\u2212");

export default function App() {
  const ref = useRef<HTMLDivElement>(null);

  useEffect(() => {
    if (!ref.current) return;
    const chart = echarts.init(ref.current, null, { renderer: "svg" });

    const cv = document.createElement("canvas");
    const ctx = cv.getContext("2d")!;
    const measure = (font: string, t: string) => {
      ctx.font = font;
      return ctx.measureText(t).width;
    };

    const grid: any[] = [];
    const xAxis: any[] = [];
    const yAxis: any[] = [];
    const series: any[] = [];
    const graphic: any[] = [];

    const boxLine = { show: true, onZero: false, lineStyle: { color: "#000", width: 1 } };
    const tick = { show: true, inside: true, length: 4, lineStyle: { color: "#000", width: 1 } };
    const split = { show: true, lineStyle: { color: GRID_COLOR, width: 0.8, type: [1, 2.5] } };

    for (let i = 0; i < 6; i++) {
      const g = GRIDS[i];
      grid.push({ left: g.left, top: g.top, width: g.width, height: g.height, containLabel: false });
      xAxis.push({
        type: "value", gridIndex: i, position: "bottom", min: X_MIN, max: X_MAX, interval: X_INTERVAL,
        axisLine: boxLine, axisTick: tick, splitLine: split,
        axisLabel: { fontFamily: SANS, fontSize: 11, color: "#1a1a1a", margin: 4 },
        name: X_NAME, nameLocation: "middle", nameGap: X_NAME_GAPS[i],
        nameTextStyle: { fontFamily: SANS, fontSize: 10, color: "#1a1a1a" },
      });
      xAxis.push({
        type: "value", gridIndex: i, position: "top", min: X_MIN, max: X_MAX, interval: X_INTERVAL,
        axisLine: boxLine, axisTick: tick, splitLine: { show: false }, axisLabel: { show: false },
      });
      yAxis.push({
        type: "value", gridIndex: i, position: "left", min: Y_MINS[i], max: Y_MAXS[i], interval: Y_INTERVALS[i],
        axisLine: boxLine, axisTick: tick, splitLine: split,
        axisLabel: { fontFamily: SANS, fontSize: 11, color: "#1a1a1a", margin: 4, formatter: minusFmt },
        name: Y_NAMES[i], nameLocation: "middle", nameGap: Y_NAME_GAPS[i],
        nameTextStyle: { fontFamily: SANS, fontSize: 10, color: "#1a1a1a" },
      });
      yAxis.push({
        type: "value", gridIndex: i, position: "right", min: Y_MINS[i], max: Y_MAXS[i], interval: Y_INTERVALS[i],
        axisLine: boxLine, axisTick: tick, splitLine: { show: false }, axisLabel: { show: false },
      });

      const common = {
        type: "line", xAxisIndex: 2 * i, yAxisIndex: 2 * i, showSymbol: false, symbol: "none",
        clip: true, silent: true, smoothMonotone: "x", emphasis: { disabled: true },
      };
      series.push({
        ...common, data: DOTTED[i], z: 2, smooth: NOISY[i] ? false : 0.5,
        lineStyle: { color: DOT_COLOR, width: 1.1, type: [1.2, 2] },
      });
      series.push({
        ...common, data: DASHED[i], z: 3, smooth: NOISY[i] ? false : 0.45,
        lineStyle: { color: "#000", width: 1.7, type: [6, 3] },
      });
      series.push({
        ...common, data: SOLID[i], z: 4, smooth: 0.45,
        lineStyle: { color: SOLID_COLOR, width: 1.7 },
      });

      const letter = `(${CAPTION_LETTERS[i]})`;
      const rest1 = `\u00a0\u00a0${CAPTION_JOINTS[i]}\u00a0`;
      const ax = CAPTION_AXES[i];
      const rest2 = "-coordinate.";
      const natural =
        measure(`bold ${CAP_SIZE}px ${SERIF}`, letter) +
        measure(`${CAP_SIZE}px ${SERIF}`, rest1) +
        measure(`italic ${CAP_SIZE}px ${SERIF}`, ax) +
        measure(`${CAP_SIZE}px ${SERIF}`, rest2);
      const p = CAPTIONS_POS[i];
      const sx = natural > 0 ? p.w / natural : 1;
      graphic.push({
        type: "group", x: p.x, y: p.y, scaleX: sx, scaleY: 1, silent: true,
        children: [{
          type: "text", x: 0, y: 0,
          style: {
            text: `{b|${letter}}${rest1}{i|${ax}}${rest2}`,
            fontFamily: SERIF, fontSize: CAP_SIZE, fill: "#111",
            verticalAlign: "middle", align: "left",
            rich: {
              b: { fontFamily: SERIF, fontSize: CAP_SIZE, fontWeight: "bold", fill: "#111" },
              i: { fontFamily: SERIF, fontSize: CAP_SIZE, fontStyle: "italic", fill: "#111" },
            },
          },
        }],
      });
    }

    chart.setOption({
      animation: false,
      backgroundColor: "#fff",
      grid, xAxis, yAxis, series, graphic,
    });

    return () => chart.dispose();
  }, []);

  return (
    <div
      ref={ref}
      style={{ position: "fixed", left: 0, top: 0, width: 1325, height: 765, background: "#fff" }}
    />
  );
}
